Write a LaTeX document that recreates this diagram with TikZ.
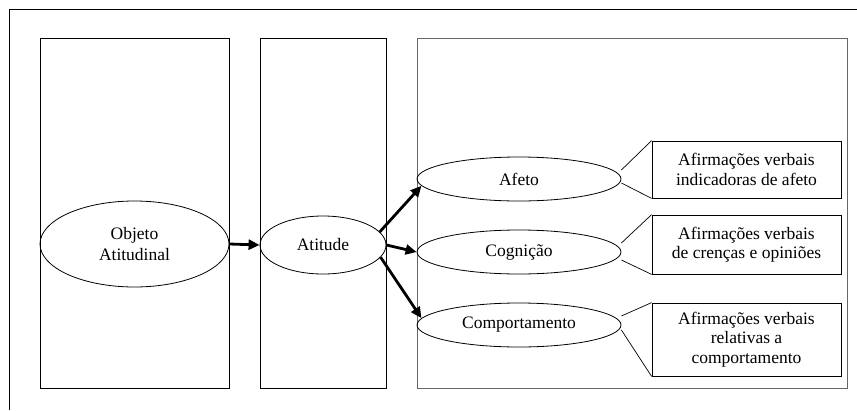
\documentclass[tikz,border=0pt]{standalone}
\usepackage{fontspec}
\setmainfont{Liberation Serif}
\usetikzlibrary{shapes.geometric,arrows.meta}
\tikzset{
  panel/.style={shape=rectangle, draw, line width=0.8pt, inner sep=0},
  oval/.style={shape=ellipse, draw, line width=0.8pt, inner sep=0, align=center, font=\fontsize{17.5}{20.5}\selectfont},
  notebox/.style={shape=rectangle, draw, line width=0.8pt, inner sep=0, align=center, minimum width=189pt, font=\fontsize{17.5}{19.5}\selectfont},
  flow/.style={-{Triangle[length=11pt,width=10pt]}, line width=2.8pt},
  pointer/.style={line width=0.7pt}
}
\begin{document}
\begin{tikzpicture}[x=1pt, y=-1pt]
        \useasboundingbox (0, 0) rectangle (857, 410);
        % Outer frame (cut at the right and bottom):
        \draw[line width=0.8pt] (9, 410) -- (9, 9) -- (857, 9);
        % Panels:
        \node[panel, minimum width=189pt, minimum height=350pt] (objpanel) at (134.5, 213) {};
        \node[panel, minimum width=126pt, minimum height=350pt] (atpanel) at (323, 213) {};
        \node[panel, draw=black!60, minimum width=430pt, minimum height=350pt] (comppanel) at (632, 213) {};
        % Ellipses:
        \node[oval, minimum width=189pt, minimum height=86pt] (objeto) at (134.5, 244) {Objeto\\Atitudinal};
        \node[oval, minimum width=126pt, minimum height=58pt] (atitude) at (323, 245) {Atitude};
        \node[oval, minimum width=204pt, minimum height=44pt] (afeto) at (519, 179) {Afeto};
        \node[oval, minimum width=204pt, minimum height=44pt] (cognicao) at (519, 252) {Cognição};
        \node[oval, minimum width=204pt, minimum height=44pt] (comport) at (519, 325) {Comportamento};
        % Callout boxes:
        \node[notebox, minimum height=57pt] (afetobox) at (746.5, 169.5) {Afirmações verbais\\indicadoras de afeto};
        \node[notebox, minimum height=59pt] (cogbox) at (746.5, 244.5) {Afirmações verbais\\de crenças e opiniões};
        \node[notebox, minimum height=73pt] (compbox) at (746.5, 339.5) {Afirmações verbais\\relativas a\\comportamento};
        % Arrows:
        \draw[flow] (objeto.east) -- (atitude.west);
        \draw[flow] (atitude.13) -- (afeto.184);
        \draw[flow] (atitude.east) -- (cognicao.west);
        \draw[flow] (atitude.-12) -- (comport.176);
        % Pointers:
        \draw[pointer] ([yshift=9pt]afeto.east) -- (afetobox.north west);
        \draw[pointer] ([yshift=-4pt]afeto.east) -- (afetobox.south west);
        \draw[pointer] ([yshift=9pt]cognicao.east) -- (cogbox.north west);
        \draw[pointer] ([yshift=-8pt]cognicao.east) -- (cogbox.south west);
        \draw[pointer] ([yshift=9pt]comport.east) -- (compbox.north west);
        \draw[pointer] ([yshift=-5pt]comport.east) -- (compbox.south west);
      \end{tikzpicture}
\end{document}
